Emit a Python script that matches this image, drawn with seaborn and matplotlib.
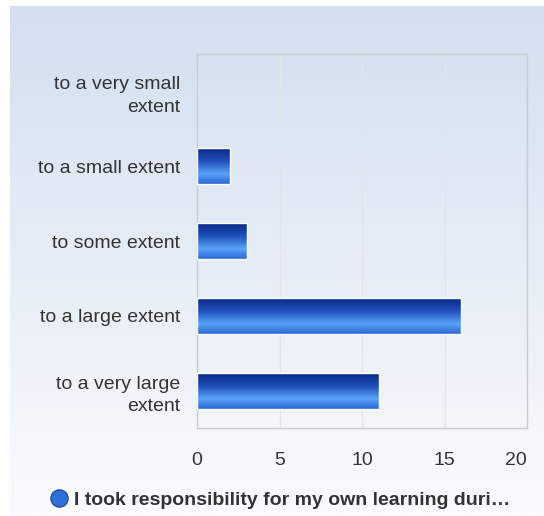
import numpy as np
import pandas as pd
import matplotlib
matplotlib.use("Agg")
import matplotlib.pyplot as plt
import seaborn as sns
from matplotlib.colors import LinearSegmentedColormap
from matplotlib.lines import Line2D

categories = ["to a very small\nextent", "to a small extent", "to some extent",
              "to a large extent", "to a very large\nextent"]
values = [0, 2, 3, 16, 11]
series_name = "I took responsibility for my own learning duri\u2026"
x_ticks = [0, 5, 10, 15, 20]

sns.set_theme(style="white")
plt.rcParams['font.family'] = ['Liberation Sans', 'DejaVu Sans']

fig = plt.figure(figsize=(5.44, 5.16), dpi=100)

# background panel gradient
bg = fig.add_axes([10/544, 0, 1 - 10/544, 1 - 6/516], zorder=-10)
grad = np.linspace(0, 1, 256).reshape(-1, 1)
bg_cmap = LinearSegmentedColormap.from_list("bg", ["#d3dff0", "#e6edf6", "#fafbfe"])
bg.imshow(grad, aspect="auto", cmap=bg_cmap, extent=[0, 1, 0, 1], origin="upper")
bg.set_axis_off()

ax = fig.add_axes([197/544, 1 - 428/516, (527-197)/544, (428-54)/516])
ax.patch.set_alpha(0)

df = pd.DataFrame({"cat": categories, "val": values})
sns.barplot(data=df, y="cat", x="val", orient="h", color="#2a66d0", width=0.48,
            ax=ax, edgecolor="white", linewidth=1.0)

bar_cmap = LinearSegmentedColormap.from_list(
    "bar", [(0, "#0a2a88"), (0.35, "#1f4fb8"), (0.72, "#5aa2f8"), (1.0, "#2a68d6")])
bgrad = np.linspace(0, 1, 128).reshape(-1, 1)
for p in ax.patches:
    w = p.get_width()
    if w <= 0:
        continue
    x0, y0 = p.get_x(), p.get_y()
    h = p.get_height()
    im = ax.imshow(bgrad, aspect="auto", cmap=bar_cmap,
                   extent=[x0, x0 + w, y0 + h, y0], origin="upper", zorder=3)
    im.set_clip_path(p)
    p.set_zorder(4)
    p.set_facecolor("none")
    p.set_joinstyle("round")

ax.set_xlim(0, 20)
ax.set_ylim(4.5, -0.5)
ax.set_xticks(x_ticks)
xl = ax.set_xticklabels([str(t) for t in x_ticks], fontsize=14, color="#333333")
xl[-1].set_horizontalalignment("right")
ax.set_yticks(range(len(categories)))
ax.set_yticklabels(categories, fontsize=14, color="#333333", ha="right",
                   multialignment="right", linespacing=1.45)
ax.tick_params(axis="y", length=0, pad=12)
ax.tick_params(axis="x", length=0, pad=17)
ax.set_xlabel("")
ax.set_ylabel("")
ax.grid(axis="x", color="#e2e4e8", linewidth=1)
ax.set_axisbelow(True)
for s in ax.spines.values():
    s.set_color("#cccccc")
    s.set_linewidth(1)
    s.set_visible(True)

handle = Line2D([], [], marker="o", linestyle="none", markersize=12.5,
                markerfacecolor="#2f6fd8", markeredgecolor="#1a3f9a", markeredgewidth=0.8)
leg = fig.legend([handle], [series_name], loc="center", bbox_to_anchor=(0.513, 1 - 500/516),
                 frameon=False, handletextpad=0.15, borderpad=0, handlelength=1.2,
                 prop={"size": 14, "weight": "bold"})
for t in leg.get_texts():
    t.set_color("#333333")

fig.savefig("out.png", dpi=100)
